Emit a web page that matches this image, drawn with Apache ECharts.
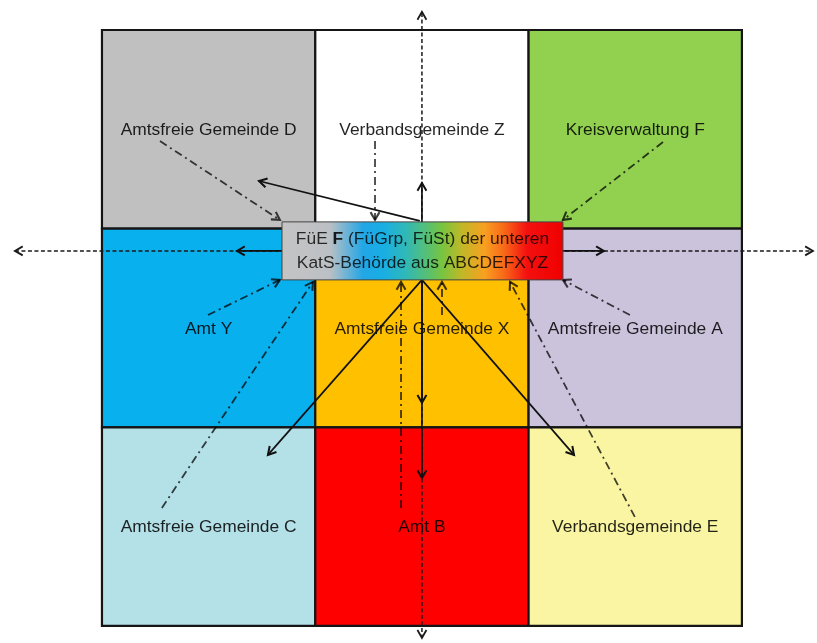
<!DOCTYPE html>
<html><head><meta charset="utf-8">
<script src="https://cdn.jsdelivr.net/npm/echarts@6/dist/echarts.min.js"></script>
<style>html,body{margin:0;padding:0;background:#fff}#c{width:817px;height:643px}</style>
</head><body><div id="c"></div>
<script>
// ---- data (diagram in cell units: column/row 0..3) ----
const cellLabels = ['Amtsfreie Gemeinde D','Verbandsgemeinde Z','Kreisverwaltung F',
                    'Amt Y','Amtsfreie Gemeinde X','Amtsfreie Gemeinde A',
                    'Amtsfreie Gemeinde C','Amt B','Verbandsgemeinde E'];
const cellCols = [0,1,2,0,1,2,0,1,2];
const cellRows = [0,0,0,1,1,1,2,2,2];
const boxTextLine1 = ['FüE ', 'F', ' (FüGrp, FüSt) der unteren'];
const boxTextLine2 = 'KatS-Behörde aus ABCDEFXYZ';
const boxCorners = [[0.844, 0.966, 2.161, 1.258]];
// dashed axes: [x1,y1,x2,y2], arrow at the second point
const axisArrows = [[1.5,1.112,1.5,-0.091],[1.5,1.112,1.5,3.060],[1.5,1.112,-0.408,1.112],[1.5,1.112,3.333,1.112]];
// solid arrows from the FüE box
const solidArrows = [[1.5,1.258,1.5,1.877],[1.5,1.258,1.5,2.255],[1.5,1.258,0.778,2.139],[1.5,1.258,2.213,2.139],
                     [1.49,0.961,0.736,0.760],[1.5,0.966,1.5,0.770],[0.844,1.112,0.633,1.112],[2.161,1.112,2.353,1.112]];
// dash-dot arrows from the cells to the FüE box
const dashDotArrows = [[0.272,0.559,0.834,0.956],[1.280,0.559,1.280,0.956],[2.630,0.564,2.161,0.956],
                       [0.497,1.435,0.834,1.258],[0.281,2.406,0.989,1.268],[1.594,1.435,1.594,1.268],
                       [1.402,2.406,1.402,1.268],[2.475,1.435,2.161,1.258],[2.498,2.451,1.913,1.268]];

// ---- styles ----
const cellColors = ['#c0c0c0','#ffffff','#92d050','#08b0ee','#ffc000','#cbc2dc','#b4e0e8','#ff0000','#f9f5a2'];
const FONT = '17.4px "Liberation Sans", Arial, sans-serif';

const chart = echarts.init(document.getElementById('c'), null, {renderer:'canvas'});

function headPts(p, q, len, ang) {
  const dx = q[0]-p[0], dy = q[1]-p[1], L = Math.hypot(dx, dy);
  const ux = dx/L, uy = dy/L, pts = [];
  [1,-1].forEach(s => {
    const c = Math.cos(ang), sn = Math.sin(ang)*s;
    const rx = ux*c - uy*sn, ry = ux*sn + uy*c;
    pts.push([q[0]-len*rx, q[1]-len*ry]);
  });
  return [pts[0], q, pts[1]];
}

function arrowSeries(name, data, lineStyle, z) {
  return {
    type:'custom', name, z, coordinateSystem:'cartesian2d', silent:true, clip:false,
    data, encode:{x:[0,2], y:[1,3]},
    renderItem(params, api) {
      const p = api.coord([api.value(0), api.value(1)]);
      const q = api.coord([api.value(2), api.value(3)]);
      return {type:'group', children:[
        {type:'line', shape:{x1:p[0],y1:p[1],x2:q[0],y2:q[1]},
         style:Object.assign({fill:null}, lineStyle)},
        {type:'polyline', shape:{points:headPts(p,q,9,Math.PI/6)},
         style:{stroke:lineStyle.stroke, lineWidth:lineStyle.lineWidth+0.3, fill:null}}
      ]};
    }
  };
}

const option = {
  animation:false,
  backgroundColor:'#ffffff',
  grid:{left:0, right:0, top:0, bottom:0, containLabel:false},
  xAxis:{type:'value', min:-0.478, max:3.352, show:false},
  yAxis:{type:'value', min:-0.151, max:3.086, inverse:true, show:false},
  series:[
    {
      type:'custom', name:'cells', z:1, coordinateSystem:'cartesian2d', silent:true,
      data: cellLabels.map((t,i)=>[cellCols[i], cellRows[i], i]),
      encode:{x:0, y:1},
      renderItem(params, api) {
        const c = api.value(0), r = api.value(1), i = api.value(2);
        const p0 = api.coord([c, r]), p1 = api.coord([c+1, r+1]);
        return {type:'group', children:[
          {type:'rect', shape:{x:p0[0], y:p0[1], width:p1[0]-p0[0], height:p1[1]-p0[1]},
           style:{fill:cellColors[i], stroke:'#151515', lineWidth:2.2}},
          {type:'text', x:(p0[0]+p1[0])/2, y:(p0[1]+p1[1])/2+1,
           style:{text:cellLabels[i], font:FONT, fill:'rgba(0,0,0,0.86)',
                  align:'center', verticalAlign:'middle'}}
        ]};
      }
    },
    arrowSeries('axes', axisArrows, {stroke:'#1a1a1a', lineWidth:1.5, lineDash:[4,2.5]}, 2),
    arrowSeries('solid', solidArrows, {stroke:'#111', lineWidth:1.7}, 3),
    arrowSeries('dashdot', dashDotArrows, {stroke:'rgba(0,0,0,0.74)', lineWidth:1.8, lineDash:[8,4,2,4]}, 3),
    {
      type:'custom', name:'box', z:5, coordinateSystem:'cartesian2d', silent:true,
      data: boxCorners, encode:{x:[0,2], y:[1,3]},
      renderItem(params, api) {
        const p0 = api.coord([api.value(0), api.value(1)]);
        const p1 = api.coord([api.value(2), api.value(3)]);
        const grad = new echarts.graphic.LinearGradient(0,0,1,0,[
          {offset:0, color:'#c4c4c4'},{offset:0.17, color:'#bcc0c4'},
          {offset:0.29, color:'#22a6e6'},{offset:0.36, color:'#18aee4'},
          {offset:0.44, color:'#30b8b8'},{offset:0.52, color:'#58c070'},
          {offset:0.57, color:'#78c440'},{offset:0.64, color:'#c0b828'},
          {offset:0.72, color:'#f8a020'},{offset:0.79, color:'#f86818'},
          {offset:0.87, color:'#f41010'},{offset:1, color:'#f00000'}]);
        return {type:'group', children:[
          {type:'rect', shape:{x:p0[0], y:p0[1], width:p1[0]-p0[0], height:p1[1]-p0[1]},
           style:{fill:grad, stroke:'#444', lineWidth:1}},
          {type:'text', x:(p0[0]+p1[0])/2, y:(p0[1]+p1[1])/2,
           style:{
             text:'{n|'+boxTextLine1[0]+'}{b|'+boxTextLine1[1]+'}{n|'+boxTextLine1[2]+'}\n{n|'+boxTextLine2+'}',
             align:'center', verticalAlign:'middle',
             rich:{
               n:{font:FONT, fill:'rgba(0,0,0,0.8)', lineHeight:24},
               b:{font:'bold '+FONT, fill:'rgba(0,0,0,0.88)', lineHeight:24}
             }
           }}
        ]};
      }
    }
  ]
};
chart.setOption(option);
</script>
</body></html>
